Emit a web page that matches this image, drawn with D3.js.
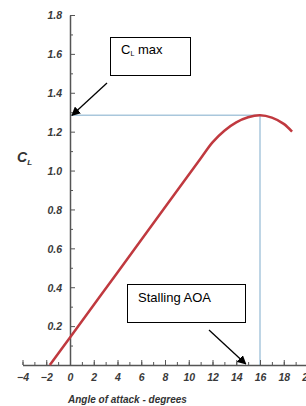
<!DOCTYPE html>
<html>
<head>
<meta charset="utf-8">
<script src="https://cdn.jsdelivr.net/npm/d3@7"></script>
<style>
  body { margin: 0; background: #fff; }
  svg { display: block; }
</style>
</head>
<body>
<svg width="306" height="406"></svg>
<script>
// lift curve
var aoa = [-1.7, 0, 4, 8, 11, 12, 13, 14, 15, 16, 17, 18, 18.7];
var cl = [0, 0.142, 0.476, 0.811, 1.062, 1.145, 1.205, 1.248, 1.274, 1.284, 1.272, 1.24, 1.2];
var xTicks = d3.range(-4, 21, 2);
var yTicks = [0.2, 0.4, 0.6, 0.8, 1.0, 1.2, 1.4, 1.6, 1.8];
var clMax = 1.284;
var stallAoa = 16;

var svg = d3.select("svg");

var x = d3.scaleLinear().domain([-4, 20]).range([22.5, 307.5]);
var y = d3.scaleLinear().domain([0, 1.8]).range([365, 15]);

var font = "Arial, 'Liberation Sans', sans-serif";

// reference lines for CL max / stall
svg.append("line")
  .attr("x1", x(0)).attr("x2", x(stallAoa))
  .attr("y1", y(clMax)).attr("y2", y(clMax))
  .attr("stroke", "#a9c7dc").attr("stroke-width", 1.5);
svg.append("line")
  .attr("x1", x(stallAoa)).attr("x2", x(stallAoa))
  .attr("y1", y(clMax)).attr("y2", y(0))
  .attr("stroke", "#a9c7dc").attr("stroke-width", 1.5);

// minor x ticks
svg.append("g")
  .attr("transform", "translate(0," + y(0) + ")")
  .call(d3.axisBottom(x).tickValues(d3.range(-4, 21, 1)).tickSizeInner(-3).tickSizeOuter(0).tickFormat(""))
  .call(function(g){ g.select(".domain").remove(); })
  .selectAll("line").attr("stroke", "#555");

// x axis
var gx = svg.append("g")
  .attr("transform", "translate(0," + y(0) + ")")
  .call(d3.axisBottom(x).tickValues(xTicks).tickSizeInner(-5).tickSizeOuter(0).tickPadding(9).tickFormat(d3.format("d")));
gx.select(".domain").attr("stroke", "#555").attr("stroke-width", 1.5);
gx.selectAll("line").attr("stroke", "#555");
gx.selectAll("text")
  .attr("font-family", font).attr("font-size", 10.5)
  .attr("font-weight", "bold").attr("font-style", "italic").attr("fill", "#3a3a3a");

// minor y ticks
svg.append("g")
  .attr("transform", "translate(" + x(0) + ",0)")
  .call(d3.axisLeft(y).tickValues(d3.range(0.1, 1.8, 0.2)).tickSizeInner(-3).tickSizeOuter(0).tickFormat(""))
  .call(function(g){ g.select(".domain").remove(); })
  .selectAll("line").attr("stroke", "#555");

// y axis
var gy = svg.append("g")
  .attr("transform", "translate(" + x(0) + ",0)")
  .call(d3.axisLeft(y).tickValues(yTicks).tickSizeInner(-5).tickSizeOuter(0).tickPadding(8).tickFormat(d3.format(".1f")));
gy.select(".domain").attr("stroke", "#555").attr("stroke-width", 1.5);
gy.selectAll("line").attr("stroke", "#555");
gy.selectAll("text")
  .attr("font-family", font).attr("font-size", 10.5)
  .attr("font-weight", "bold").attr("font-style", "italic").attr("fill", "#3a3a3a")
  .attr("dy", "0.55em").attr("y", -2);

// the curve
var pts = aoa.map(function(a, i){ return [a, cl[i]]; });
var line = d3.line()
  .x(function(d){ return x(d[0]); })
  .y(function(d){ return y(d[1]); })
  .curve(d3.curveCatmullRom.alpha(0.5));
svg.append("path")
  .datum(pts)
  .attr("d", line)
  .attr("fill", "none")
  .attr("stroke", "#c0393f")
  .attr("stroke-width", 2.5);

// axis titles
var ct = svg.append("text")
  .attr("x", 17).attr("y", 162)
  .attr("font-family", font).attr("font-size", 14)
  .attr("font-weight", "bold").attr("font-style", "italic").attr("fill", "#333");
ct.append("tspan").text("C");
ct.append("tspan").attr("font-size", 8).attr("dy", 3).text("L");

svg.append("text")
  .attr("x", 68).attr("y", 403)
  .attr("font-family", font).attr("font-size", 10)
  .attr("font-weight", "bold").attr("font-style", "italic").attr("fill", "#333")
  .text("Angle of attack - degrees");

// arrow head
svg.append("defs").append("marker")
  .attr("id", "arr")
  .attr("viewBox", "0 0 10 10")
  .attr("refX", 9).attr("refY", 5)
  .attr("markerWidth", 9).attr("markerHeight", 9)
  .attr("markerUnits", "userSpaceOnUse")
  .attr("orient", "auto")
  .append("path").attr("d", "M0,0L10,5L0,10Z").attr("fill", "#000");

// CL max callout
svg.append("rect")
  .attr("x", 110.5).attr("y", 37.5).attr("width", 80).attr("height", 38)
  .attr("fill", "#fff").attr("stroke", "#000").attr("stroke-width", 1);
var cm = svg.append("text")
  .attr("x", 121).attr("y", 54)
  .attr("font-family", font).attr("font-size", 13).attr("fill", "#000");
cm.append("tspan").text("C");
cm.append("tspan").attr("font-size", 7).attr("dy", 2).text("L");
cm.append("tspan").attr("dy", -2).text(" max");
svg.append("line")
  .attr("x1", 107).attr("y1", 83)
  .attr("x2", x(0) + 2).attr("y2", y(clMax))
  .attr("stroke", "#000").attr("stroke-width", 1.3)
  .attr("marker-end", "url(#arr)");

// stalling AOA callout
svg.append("rect")
  .attr("x", 127.5).attr("y", 284.5).attr("width", 118).attr("height", 38)
  .attr("fill", "#fff").attr("stroke", "#000").attr("stroke-width", 1);
svg.append("text")
  .attr("x", 138).attr("y", 302)
  .attr("font-family", font).attr("font-size", 13).attr("fill", "#000")
  .text("Stalling AOA");
svg.append("line")
  .attr("x1", 209).attr("y1", 330)
  .attr("x2", x(14.8)).attr("y2", y(0) - 1)
  .attr("stroke", "#000").attr("stroke-width", 1.3)
  .attr("marker-end", "url(#arr)");
</script>
</body>
</html>
